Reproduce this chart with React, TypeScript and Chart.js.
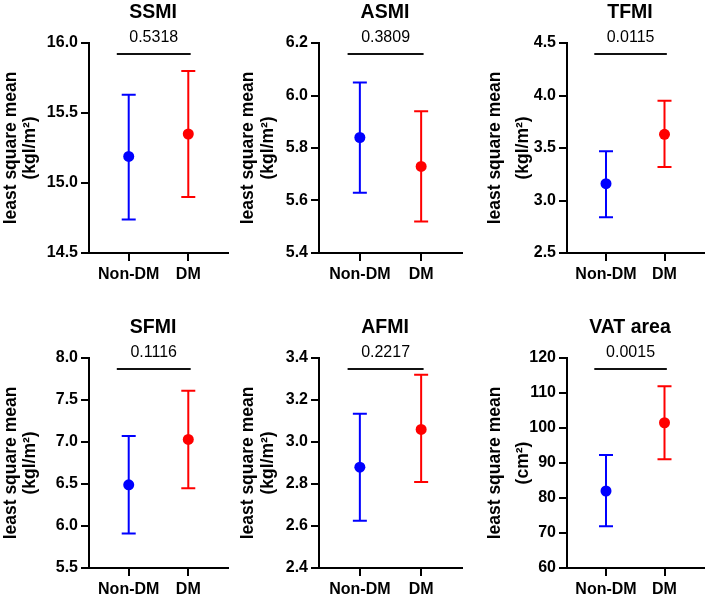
import React, { useEffect, useRef } from 'react';
import { Chart, registerables } from 'chart.js';

Chart.register(...registerables);

// ---------- data ----------
const GROUPS = ['Non-DM', 'DM'];
const PANEL_TITLES = ['SSMI', 'ASMI', 'TFMI', 'SFMI', 'AFMI', 'VAT area'];
const P_VALUES = ['0.5318', '0.3809', '0.0115', '0.1116', '0.2217', '0.0015'];
const Y_TITLE = 'least square mean';
const Y_UNITS = ['(kgl/m²)', '(kgl/m²)', '(kgl/m²)', '(kgl/m²)', '(kgl/m²)', '(cm²)'];

const NON_DM_MEAN = [15.19, 5.84, 3.16, 6.49, 2.88, 82.0];
const NON_DM_LOWER = [14.74, 5.63, 2.84, 5.91, 2.625, 71.9];
const NON_DM_UPPER = [15.63, 6.05, 3.47, 7.07, 3.135, 92.3];

const DM_MEAN = [15.35, 5.73, 3.63, 7.03, 3.06, 101.5];
const DM_LOWER = [14.9, 5.52, 3.32, 6.45, 2.81, 91.1];
const DM_UPPER = [15.8, 5.94, 3.95, 7.61, 3.32, 111.9];

const Y_MIN = [14.5, 5.4, 2.5, 5.5, 2.4, 60];
const Y_MAX = [16.0, 6.2, 4.5, 8.0, 3.4, 120];
const Y_STEP = [0.5, 0.2, 0.5, 0.5, 0.2, 10];
const Y_DECIMALS = [1, 1, 1, 1, 1, 0];

// ---------- styles / layout ----------
const FAMILY = '"Liberation Sans", Arial, Helvetica, sans-serif';
const COLORS = ['#0000ff', '#ff0000'];
const BRACKET_FROM = 0.8;
const BRACKET_TO = 2.04;
const LABEL_X = 1.42;

const COLS = [
  { left: 0, width: 236, axisW: 89, padR: 8, titlePad: 1.4, lh: 1.1 },
  { left: 236, width: 236, axisW: 83, padR: 10, titlePad: 3, lh: 1.1 },
  { left: 472, width: 237, axisW: 95, padR: 1, titlePad: 10, lh: 1.55 },
];
const ROWS = [
  { top: 0, height: 296, padT: 43, xH: 43 },
  { top: 296, height: 300, padT: 62, xH: 28 },
];

const annotPlugin = {
  id: 'annot',
  beforeDatasetsDraw(chart: any, _args: any, opts: any) {
    const { ctx, scales } = chart;
    const x = scales.x;
    const y = scales.y;
    ctx.save();
    ctx.lineWidth = 2;
    opts.bars.forEach((b: any, i: number) => {
      const px = x.getPixelForValue(i + 1);
      const yl = y.getPixelForValue(b.lower);
      const yu = y.getPixelForValue(b.upper);
      ctx.strokeStyle = COLORS[i];
      ctx.beginPath();
      ctx.moveTo(px, yu);
      ctx.lineTo(px, yl);
      ctx.moveTo(px - 7, yu);
      ctx.lineTo(px + 7, yu);
      ctx.moveTo(px - 7, yl);
      ctx.lineTo(px + 7, yl);
      ctx.stroke();
    });
    ctx.restore();
  },
  afterDraw(chart: any, _args: any, opts: any) {
    const { ctx, scales, chartArea } = chart;
    const x = scales.x;
    const top = chartArea.top;
    ctx.save();
    ctx.fillStyle = '#000';
    ctx.textAlign = 'center';
    ctx.textBaseline = 'middle';
    ctx.font = `bold 19.5px ${FAMILY}`;
    ctx.fillText(opts.title, x.getPixelForValue(1.41), top - 30.5);
    ctx.font = `16px ${FAMILY}`;
    ctx.fillText(opts.p, x.getPixelForValue(LABEL_X), top - 5);
    ctx.strokeStyle = '#111';
    ctx.lineWidth = 2;
    ctx.beginPath();
    ctx.moveTo(x.getPixelForValue(BRACKET_FROM), top + 11);
    ctx.lineTo(x.getPixelForValue(BRACKET_TO), top + 11);
    ctx.stroke();
    ctx.restore();
  },
};

function buildConfig(idx: number): any {
  const col = COLS[idx % 3];
  const row = ROWS[Math.floor(idx / 3)];
  const means = [NON_DM_MEAN[idx], DM_MEAN[idx]];
  const lowers = [NON_DM_LOWER[idx], DM_LOWER[idx]];
  const uppers = [NON_DM_UPPER[idx], DM_UPPER[idx]];
  const tickFont = { family: FAMILY, size: 16, weight: 'bold' as const };
  const gridOpts = {
    display: true,
    drawOnChartArea: false,
    drawTicks: true,
    tickLength: 8,
    lineWidth: 2,
    color: '#000',
  };
  const border = { display: true, color: '#000', width: 2 };
  return {
    type: 'scatter',
    data: {
      datasets: GROUPS.map((g, i) => ({
        label: g,
        data: [{ x: i + 1, y: means[i] }],
        backgroundColor: COLORS[i],
        borderColor: COLORS[i],
        borderWidth: 0,
        pointRadius: 5.5,
        pointHoverRadius: 5.5,
        clip: false,
      })),
    },
    options: {
      animation: false,
      responsive: false,
      maintainAspectRatio: false,
      devicePixelRatio: 1,
      layout: { padding: { top: row.padT, right: col.padR, bottom: 0, left: 0 } },
      plugins: {
        legend: { display: false },
        tooltip: { enabled: false },
        title: { display: false },
        annot: {
          title: PANEL_TITLES[idx],
          p: P_VALUES[idx],
          bars: GROUPS.map((_, i) => ({ lower: lowers[i], upper: uppers[i] })),
        },
      },
      scales: {
        x: {
          type: 'linear',
          min: 1 / 3,
          max: 8 / 3,
          afterBuildTicks: (s: any) => {
            s.ticks = GROUPS.map((_, i) => ({ value: i + 1 }));
          },
          ticks: {
            autoSkip: false,
            maxRotation: 0,
            padding: 4,
            color: '#000',
            font: tickFont,
            callback: (_v: any, i: number) => GROUPS[i] ?? '',
          },
          grid: gridOpts,
          border,
          afterFit: (s: any) => {
            s.height = row.xH;
          },
        },
        y: {
          type: 'linear',
          min: Y_MIN[idx],
          max: Y_MAX[idx],
          ticks: {
            stepSize: Y_STEP[idx],
            padding: 3,
            color: '#000',
            font: tickFont,
            callback: (v: any) => Number(v).toFixed(Y_DECIMALS[idx]),
          },
          grid: gridOpts,
          border,
          title: {
            display: true,
            text: [Y_TITLE, Y_UNITS[idx]],
            color: '#000',
            font: { family: FAMILY, size: 17.5, weight: 'bold', lineHeight: col.lh },
            padding: { top: col.titlePad, bottom: 0 },
          },
          afterFit: (s: any) => {
            s.width = col.axisW;
          },
        },
      },
    },
    plugins: [annotPlugin],
  };
}

function Panel({ idx }: { idx: number }) {
  const ref = useRef<HTMLCanvasElement | null>(null);
  const col = COLS[idx % 3];
  const row = ROWS[Math.floor(idx / 3)];
  useEffect(() => {
    if (!ref.current) return;
    const chart = new Chart(ref.current, buildConfig(idx));
    return () => chart.destroy();
  }, [idx]);
  return (
    <canvas
      ref={ref}
      width={col.width}
      height={row.height}
      style={{
        position: 'absolute',
        left: col.left,
        top: row.top,
        width: col.width,
        height: row.height,
        display: 'block',
      }}
    />
  );
}

export default function App() {
  return (
    <div
      style={{
        position: 'fixed',
        left: 0,
        top: 0,
        width: 709,
        height: 596,
        background: '#fff',
        overflow: 'hidden',
      }}
    >
      {PANEL_TITLES.map((_, i) => (
        <Panel key={i} idx={i} />
      ))}
    </div>
  );
}
